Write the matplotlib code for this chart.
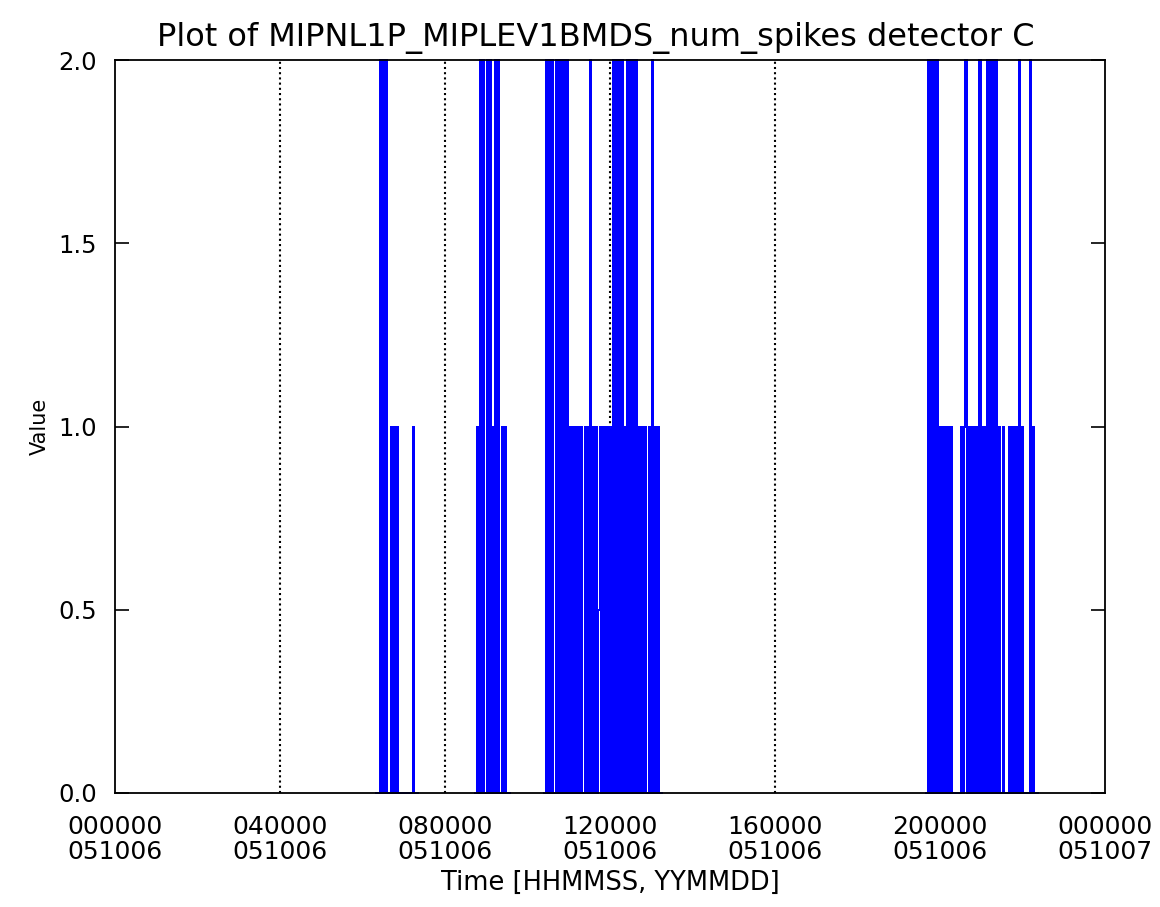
import matplotlib
matplotlib.use("Agg")
import matplotlib.pyplot as plt
import numpy as np

plt.rcParams['font.family'] = ['DejaVu Sans']

# samples every 2 minutes inside each burst of activity, start given as HHMMSS
sample_min = 2
seg_start = ["062000", "084400", "102400", "194000"]
seg_values = [
    "0002020200010101000000000001000",
    "00102020020201020200101000",
    "00" "202020" "0" "2020202020" "1010101010" "0" "1010" "2010" "10h1"
    "010101010" "20202020" "10" "20202020" "100" "10100" "10" "20101000",
    "00202020201010101010" "000000" "1012010101" "0102010102" "0202020100"
    "10000" "10101012010" "0000" "201000",
]
levels = {'0': 0.0, 'h': 0.5, '1': 1.0, '2': 2.0}

marker_hours = [4, 8, 12, 16]
tick_hours = [0, 4, 8, 12, 16, 20, 24]
tick_labels = ["000000\n051006", "040000\n051006", "080000\n051006",
               "120000\n051006", "160000\n051006", "200000\n051006",
               "000000\n051007"]
y_ticks = [0.0, 0.5, 1.0, 1.5, 2.0]

fig = plt.figure(figsize=(11.6, 9.07), dpi=100)
ax = fig.add_axes([115/1160, 1 - 793/907, 990/1160, 733/907])

for h in marker_hours:
    ax.axvline(h, color='black', ls=(0, (1, 1.5)), lw=1.5, zorder=1)

for start, vals in zip(seg_start, seg_values):
    t0 = int(start[:2]) + int(start[2:4]) / 60 + int(start[4:]) / 3600
    t = t0 + np.arange(len(vals)) * sample_min / 60
    v = np.array([levels[c] for c in vals])
    ax.plot(t, v, color='#0000ff', lw=1.2, drawstyle='steps-mid',
            zorder=2, clip_on=False, antialiased=False)
    # each jump as its own stroke so that dense bursts render solid
    xb = (t[:-1] + t[1:]) / 2
    lo = np.minimum(v[:-1], v[1:])
    hi = np.maximum(v[:-1], v[1:])
    jump = hi > lo
    ax.vlines(xb[jump], lo[jump], hi[jump], color='#0000ff', lw=1.3,
              zorder=2, clip_on=False, antialiased=False)

ax.set_xlim(0, 24)
ax.set_ylim(0, 2)
ax.set_xticks(tick_hours)
ax.set_xticklabels(tick_labels, fontsize=18, linespacing=1.05)
ax.set_yticks(y_ticks)
ax.set_yticklabels(["%.1f" % y for y in y_ticks], fontsize=17.5)
ax.tick_params(axis='x', length=0, pad=16)
ax.tick_params(axis='y', direction='in', length=10, width=1.2, right=True, pad=13)
for s in ax.spines.values():
    s.set_linewidth(1.3)

ax.set_title("Plot of MIPNL1P_MIPLEV1BMDS_num_spikes detector C",
             fontsize=23, pad=10, x=0.486)
ax.set_xlabel("Time [HHMMSS, YYMMDD]", fontsize=18.5, labelpad=4)
ax.set_ylabel("Value", fontsize=15, labelpad=6)

fig.savefig("out.png", dpi=100)
